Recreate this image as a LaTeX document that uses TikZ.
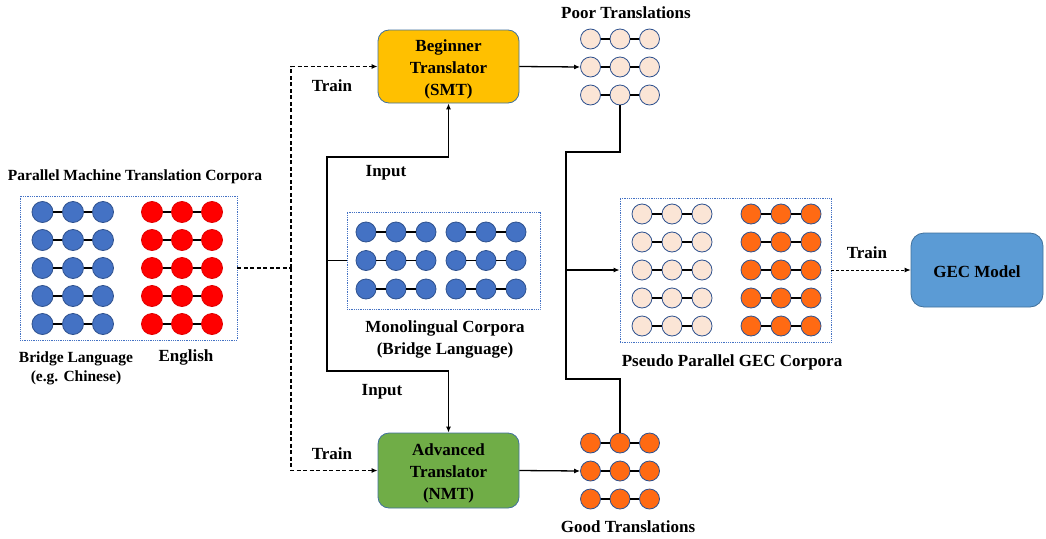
\documentclass[tikz,border=0pt]{standalone}
\usepackage{fontspec}
\setmainfont{Liberation Serif}
\usetikzlibrary{arrows.meta,calc}
\definecolor{cblue}{HTML}{4472C4}
\definecolor{cblueb}{HTML}{2F528F}
\definecolor{cred}{HTML}{FF0000}
\definecolor{credb}{HTML}{E00000}
\definecolor{corange}{HTML}{FF6A13}
\definecolor{cpeach}{HTML}{FBE5D6}
\definecolor{cgold}{HTML}{FFC000}
\definecolor{cgreen}{HTML}{70AD47}
\definecolor{cgec}{HTML}{5B9BD5}
\definecolor{cbord}{HTML}{41719C}
\newcommand\mybig{\fontsize{17}{22}\selectfont\bfseries}
\newcommand\mysmall{\fontsize{15.5}{19}\selectfont\bfseries}
\begin{document}
\begin{tikzpicture}[x=1pt,y=-1pt,
  dot/.style={circle,minimum size=20pt,inner sep=0pt,line width=0.8pt},
  bdot/.style={dot,fill=cblue,draw=cblueb},
  rdot/.style={dot,fill=cred,draw=credb},
  odot/.style={dot,fill=corange,draw=cblueb},
  pdot/.style={dot,fill=cpeach,draw=cblueb},
  link/.style={line width=1.5pt,black},
  corpus/.style={draw=cblue,densely dotted,line width=0.8pt,inner sep=0pt},
  model/.style={draw=cbord,line width=0.8pt,rounded corners=11pt,inner sep=0pt},
  lbl/.style={font=\mybig,align=center},
  slbl/.style={font=\mysmall,align=center},
  conn/.style={line width=1.3pt},
  flow/.style={conn,-{Latex[length=6pt,width=5pt]}},
  dline/.style={line width=1.3pt,dash pattern=on 4pt off 2.5pt},
  dflow/.style={dline,-{Latex[length=6pt,width=5pt]}},
  thinflow/.style={line width=0.9pt,dash pattern=on 3pt off 2pt,-{Latex[length=6pt,width=5pt]}},
]
\useasboundingbox[fill=white] (0,0) rectangle (1046,538);

% ---------- Parallel MT corpora ----------
\node[corpus,minimum width=217pt,minimum height=144pt] (pmt) at (128.5,268) {};
\foreach \r in {1,...,5} {
  \pgfmathsetmacro\yy{212+28*(\r-1)}
  \foreach \c/\x in {1/42.5,2/73,3/103} \node[bdot,minimum size=21pt] (pb\r\c) at (\x,\yy) {};
  \foreach \c/\x in {1/152,2/182,3/212} \node[rdot,minimum size=21pt] (pr\r\c) at (\x,\yy) {};
  \draw[link] (pb\r1) -- (pb\r2) (pb\r2) -- (pb\r3) (pr\r1) -- (pr\r2) (pr\r2) -- (pr\r3);
}
\node[slbl] (tpmt) at (135,177) {Parallel Machine Translation Corpora};
\node[slbl] (tbridge) at (76,368) {Bridge Language\\(e.g. Chinese)};
\node[lbl] (teng) at (186,357) {English};

% ---------- Monolingual corpora ----------
\node[corpus,minimum width=193pt,minimum height=97pt] (mono) at (443.5,260.5) {};
\foreach \r/\yy in {1/232,2/260.5,3/289} {
  \foreach \c/\x in {1/366,2/396,3/426,4/456,5/486,6/516} \node[bdot] (mb\r\c) at (\x,\yy) {};
  \draw[link] (mb\r1) -- (mb\r2) (mb\r2) -- (mb\r3) (mb\r4) -- (mb\r5) (mb\r5) -- (mb\r6);
}
\node[lbl] (tmono) at (445,339) {Monolingual Corpora\\(Bridge Language)};

% ---------- Models ----------
\node[model,fill=cgold,minimum width=141pt,minimum height=73pt] (smt) at (448.5,66.5) {};
\node[lbl] (smttext) at ($(smt.center)+(0,2.5)$) {Beginner\\Translator\\(SMT)};
\node[model,fill=cgreen,minimum width=141pt,minimum height=75pt] (nmt) at (448.5,470.5) {};
\node[lbl] (nmttext) at ($(nmt.center)+(0,2.5)$) {Advanced\\Translator\\(NMT)};
\node[model,fill=cgec,minimum width=132pt,minimum height=74pt,rounded corners=13pt] (gecm) at (977,270) {};
\node[lbl] (gecmtext) at ($(gecm.center)+(0,1.5)$) {GEC Model};

% ---------- Poor / Good translations ----------
\foreach \r/\yy in {1/39,2/67,3/95} {
  \foreach \c/\x in {1/590.5,2/620,3/649.5} \node[pdot] (pt\r\c) at (\x,\yy) {};
  \draw[link] (pt\r1) -- (pt\r2) (pt\r2) -- (pt\r3);
}
\node[lbl] (tpoor) at (626,13) {Poor Translations};
\foreach \r/\yy in {1/443,2/471,3/499} {
  \foreach \c/\x in {1/590.5,2/620,3/649.5} \node[odot] (gt\r\c) at (\x,\yy) {};
  \draw[link] (gt\r1) -- (gt\r2) (gt\r2) -- (gt\r3);
}
\node[lbl] (tgood) at (628,527) {Good Translations};

% ---------- Pseudo parallel GEC corpora ----------
\node[corpus,minimum width=211pt,minimum height=144pt] (gec) at (725.5,270) {};
\foreach \r in {1,...,5} {
  \pgfmathsetmacro\yy{214+28*(\r-1)}
  \foreach \c/\x in {1/642,2/672,3/702} \node[pdot] (gp\r\c) at (\x,\yy) {};
  \foreach \c/\x in {1/751,2/781,3/811} \node[odot] (go\r\c) at (\x,\yy) {};
  \draw[link] (gp\r1) -- (gp\r2) (gp\r2) -- (gp\r3) (go\r1) -- (go\r2) (go\r2) -- (go\r3);
}
\node[lbl] (tgec) at (732,362) {Pseudo Parallel GEC Corpora};

% ---------- Connectors ----------
\coordinate (split) at (291,268);
\draw[dline] (pmt.east) -- (split);
\draw[dflow] (split) |- (smt.west);
\draw[dflow] (split) |- (nmt.west);
\node[lbl] (train1) at (332,86) {Train};
\node[lbl] (train2) at (332,454) {Train};

\coordinate (trunk) at (327,260.5);
\coordinate (c1) at (448.5,157);
\coordinate (c2) at (448.5,371);
\draw[flow] (mono.west) -- (trunk) |- (c1) -- (smt.south);
\draw[flow] (trunk) |- (c2) -- (nmt.north);
\node[lbl] (in1) at (386,173) {Input};
\node[lbl] (in2) at (382,392) {Input};

\draw[flow] (smt.east) -- (pt21.west);
\draw[flow] (nmt.east) -- (gt21.west);

\coordinate (m2) at (566,152);
\coordinate (m4) at (620,379);
\coordinate (m5) at (566,270);
\draw[conn] (pt32.south) |- (m2) |- (m4) -- (gt12.north);
\draw[flow] (m5) -- (gec.west);

\draw[thinflow] (gec.east) -- (gecm.west);
\node[lbl] (train3) at (867,253) {Train};
\end{tikzpicture}
\end{document}
